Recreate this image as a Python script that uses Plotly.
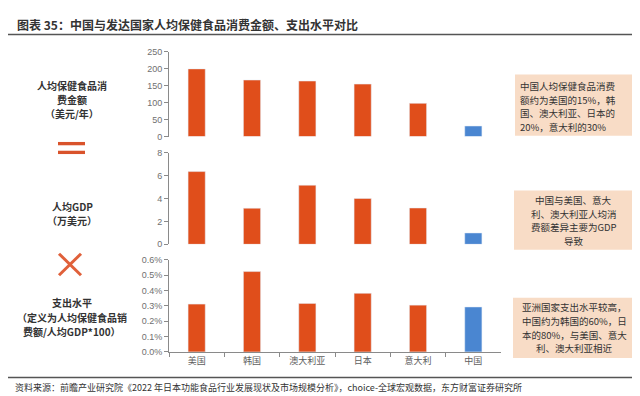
import plotly.graph_objects as go

countries = ["美国", "韩国", "澳大利亚", "日本", "意大利", "中国"]
spend_usd = [200, 167, 164, 155, 98, 31]
gdp_10k_usd = [6.35, 3.15, 5.16, 4.0, 3.17, 0.99]
spend_ratio_pct = [0.312, 0.524, 0.316, 0.382, 0.305, 0.293]

title_text = "图表 35：中国与发达国家人均保健食品消费金额、支出水平对比"
source_text = "资料来源：前瞻产业研究院《2022 年日本功能食品行业发展现状及市场规模分析》，choice-全球宏观数据，东方财富证券研究所"
left_labels = [["人均保健食品消", "费金额", "（美元/年）"],
               ["人均GDP", "（万美元）"],
               ["支出水平", "（定义为人均保健食品销", "费额/人均GDP*100）"]]
box_texts = [
    ["中国人均保健食品消费", "额约为美国的15%，韩", "国、澳大利亚、日本的", "20%，意大利的30%"],
    ["中国与美国、意大", "利、澳大利亚人均消", "费额差异主要为GDP", "导致"],
    ["亚洲国家支出水平较高，", "中国约为韩国的60%，日", "本的80%，与美国、意大", "利、澳大利亚相近"],
]

W, H = 640, 396
ORANGE = "#E04E1B"
BLUE = "#4A86D1"
CJK = "Noto Sans CJK SC"

def px(x):
    return x / W

def py(y):
    return 1 - y / H

colors = [BLUE if c == "中国" else ORANGE for c in countries]

fig = go.Figure()
series = [spend_usd, gdp_10k_usd, spend_ratio_pct]
for i, vals in enumerate(series):
    sfx = "" if i == 0 else str(i + 1)
    fig.add_trace(go.Bar(x=countries, y=vals, marker_color=colors, width=0.31,
                         xaxis="x" + sfx, yaxis="y" + sfx, showlegend=False,
                         hoverinfo="skip"))

xdom = [px(161), px(493)]
panels = [(40, 126.7), (143.3, 237.3), (253.3, 347.7)]
ranges = [[0, 250], [0, 8], [0, 0.6]]
dticks = [50, 2, 0.1]

axis_color = "#8a8a8a"
tick_font = dict(family="Liberation Sans, Arial", size=9, color="#707070")

layout = dict(
    width=W, height=H,
    margin=dict(l=0, r=0, t=0, b=0),
    paper_bgcolor="white", plot_bgcolor="white",
)
for i in range(3):
    sfx = "" if i == 0 else str(i + 1)
    top, bot = panels[i]
    xa = dict(domain=xdom, anchor="y" + sfx, type="category",
              range=[-0.5, 5.5], showgrid=False, zeroline=False, fixedrange=True)
    if i < 2:
        xa.update(showline=False, showticklabels=False, ticks="")
    else:
        xa.update(showline=True, linecolor=axis_color, linewidth=1,
                  ticks="outside", ticklen=4, tickcolor=axis_color,
                  tickson="boundaries",
                  tickfont=dict(family=CJK, size=9, color="#606060"))
    ya = dict(domain=[py(bot), py(top)], anchor="x" + sfx, range=ranges[i],
              dtick=dticks[i], showgrid=False, zeroline=False,
              showline=True, linecolor=axis_color, linewidth=1,
              ticks="outside", ticklen=4, tickcolor=axis_color,
              tickfont=tick_font, fixedrange=True)
    if i == 2:
        ya.update(tickformat=".1f", ticksuffix="%")
    layout["xaxis" + sfx] = xa
    layout["yaxis" + sfx] = ya

fig.update_layout(**layout)

annotations = []

def add_text(x, y, text, size, anchor="center", bold=False, color="#333333"):
    annotations.append(dict(x=px(x), y=py(y), xref="paper", yref="paper",
                            text=("<b>" + text + "</b>") if bold else text,
                            showarrow=False, xanchor=anchor, yanchor="middle",
                            borderpad=0,
                            font=dict(family=CJK, size=size, color=color)))

add_text(8, 12, title_text, 12, anchor="left", bold=True)
add_text(6, 384, source_text, 9, anchor="left")

left_y = [[74.5, 89, 103.5], [198, 212.5], [297.5, 312, 326.5]]
for lines, ys in zip(left_labels, left_y):
    for t, yy in zip(lines, ys):
        add_text(64, yy, t, 10, bold=True)

boxes = [(507, 63, 625, 126), (506, 182, 625, 243), (505, 292, 627, 354)]
box_line_y = [[75, 89, 103, 117], [192, 206, 220, 234], [302, 316, 330, 344]]
shapes = []
for bi, ((x0, y0, x1, y1), lines, ys) in enumerate(zip(boxes, box_texts, box_line_y)):
    shapes.append(dict(type="rect", xref="paper", yref="paper",
                       x0=px(x0), x1=px(x1), y0=py(y1), y1=py(y0),
                       fillcolor="#F8DCC6", line=dict(width=0), layer="below"))
    for t, yy in zip(lines, ys):
        if bi == 0:
            add_text(x0 + 4, yy, t, 9.5, anchor="left")
        else:
            add_text((x0 + x1) / 2, yy, t, 9.5)

shapes.append(dict(type="line", xref="paper", yref="paper", x0=0, x1=px(632),
                   y0=py(22), y1=py(22), line=dict(color="#555555", width=1.5)))
shapes.append(dict(type="line", xref="paper", yref="paper", x0=0, x1=px(632),
                   y0=py(374), y1=py(374), line=dict(color="#555555", width=1.5)))
shapes.append(dict(type="rect", xref="paper", yref="paper", x0=px(633), x1=1,
                   y0=0, y1=1, fillcolor="#E6E6E6", line=dict(width=0)))
for yy in (134, 143):
    shapes.append(dict(type="rect", xref="paper", yref="paper",
                       x0=px(50), x1=px(77), y0=py(yy + 1.7), y1=py(yy - 1.7),
                       fillcolor="#D9532B", line=dict(width=0)))
shapes.append(dict(type="line", xref="paper", yref="paper", x0=px(51), x1=px(73),
                   y0=py(247), y1=py(269), line=dict(color="#E0603A", width=3)))
shapes.append(dict(type="line", xref="paper", yref="paper", x0=px(51), x1=px(73),
                   y0=py(269), y1=py(247), line=dict(color="#E0603A", width=3)))

fig.update_layout(annotations=annotations, shapes=shapes)
fig.write_html("out.html")
